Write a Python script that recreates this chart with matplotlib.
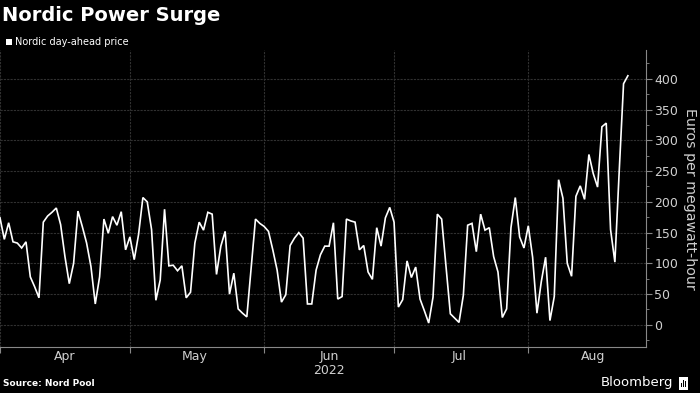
import numpy as np
import pandas as pd
import matplotlib
matplotlib.use('Agg')
import matplotlib.pyplot as plt
import matplotlib.dates as mdates
from matplotlib.patches import Rectangle

# Nordic day-ahead price, daily from 1 Apr 2022 (EUR/MWh)
prices = [
    174, 139, 166, 135, 133, 125, 135, 78, 62, 44,
    167, 177, 183, 190, 163, 111, 67, 100, 185, 160,
    133, 95, 34, 78, 172, 149, 176, 162, 184, 122,
    143, 106, 147, 207, 200, 155, 40, 73, 188, 96,
    97, 88, 96, 44, 53, 133, 167, 154, 183, 180,
    82, 128, 152, 50, 84, 26, 19, 13, 92, 172,
    165, 160, 152, 122, 89, 37, 49, 129, 141, 150,
    141, 34, 34, 89, 114, 128, 128, 166, 42, 46,
    172, 169, 167, 122, 129, 86, 74, 158, 128, 174,
    191, 167, 29, 41, 104, 77, 94, 42, 23, 3,
    45, 180, 172, 95, 18, 11, 4, 48, 162, 165,
    119, 180, 154, 158, 111, 86, 12, 26, 158, 207,
    143, 125, 161, 110, 19, 70, 110, 7, 46, 236,
    206, 100, 79, 209, 226, 204, 277, 246, 224, 322,
    328, 155, 102, 250, 392, 405,
]
dates = pd.date_range('2022-04-01', periods=len(prices), freq='D')
y_ticks = list(range(0, 401, 50))

narrow = ['Liberation Sans Narrow', 'DejaVu Sans']
grid_col = '#303030'
txt_col = '#d0d0d0'

fig = plt.figure(figsize=(7, 3.93), dpi=100, facecolor='black')
ax = fig.add_axes([0.0, 0.117, 0.923, 0.756], facecolor='black')

ax.plot(dates, prices, color='white', linewidth=1.2, solid_joinstyle='miter')

ax.set_xlim(pd.Timestamp('2022-04-01'), pd.Timestamp('2022-08-28 05:00'))
ax.set_ylim(-36, 447)

# y axis on the right
ax.yaxis.tick_right()
ax.set_yticks(y_ticks)
ax.set_yticks(range(-25, 446, 25), minor=True)
ax.tick_params(axis='y', which='major', length=4, width=0.8, color='#888888',
               labelcolor=txt_col, labelsize=9, pad=2)
ax.tick_params(axis='y', which='minor', length=2, width=0.6, color='#888888')
for lab in ax.get_yticklabels():
    lab.set_family(narrow)

# month boundaries as major ticks, labels centred at mid-month
ax.xaxis.set_major_locator(mdates.MonthLocator())
ax.xaxis.set_major_formatter(plt.NullFormatter())
ax.xaxis.set_minor_locator(mdates.MonthLocator(bymonthday=16))
ax.xaxis.set_minor_formatter(mdates.DateFormatter('%b'))
ax.tick_params(axis='x', which='major', length=4, width=0.8, color='#888888')
ax.tick_params(axis='x', which='minor', length=0, labelcolor=txt_col,
               labelsize=9, pad=2)
for lab in ax.get_xticklabels(minor=True):
    lab.set_family(narrow)
ax.text(pd.Timestamp('2022-06-16'), -0.078, '2022', transform=ax.get_xaxis_transform(),
        ha='center', va='center', color=txt_col, fontsize=9, family=narrow)

ax.grid(True, which='major', axis='both', color=grid_col, linewidth=0.8,
        linestyle=(0, (2, 1)))

for side in ['top', 'left']:
    ax.spines[side].set_visible(False)
for side in ['bottom', 'right']:
    ax.spines[side].set_color('#888888')
    ax.spines[side].set_linewidth(0.8)

fig.text(0.986, 0.495, 'Euros per megawatt-hour', rotation=-90, color=txt_col,
         fontsize=10.2, family=narrow, ha='center', va='center')

# header and legend
fig.text(0.003, 0.985, 'Nordic Power Surge', color='white', fontsize=14,
         fontweight='bold', ha='left', va='top')
fig.patches.append(Rectangle((0.008, 0.885), 0.0095, 0.017, transform=fig.transFigure,
                             facecolor='white', edgecolor='none'))
fig.text(0.021, 0.893, 'Nordic day-ahead price', color='white', fontsize=7,
         ha='left', va='center')

# footer
fig.text(0.004, 0.023, 'Source: Nord Pool', color='white', fontsize=6.5,
         fontweight='bold', ha='left', va='center')
fig.text(0.962, 0.026, 'Bloomberg', color='white', fontsize=9.5,
         family=narrow, ha='right', va='center')
fig.patches.append(Rectangle((0.970, 0.008), 0.013, 0.033, transform=fig.transFigure,
                             facecolor='white', edgecolor='none'))
for i, h in enumerate([0.012, 0.02, 0.016]):
    fig.patches.append(Rectangle((0.9722 + i * 0.0033, 0.014), 0.0018, h,
                                 transform=fig.transFigure,
                                 facecolor='black', edgecolor='none'))

fig.savefig('out.png', dpi=100, facecolor='black')
